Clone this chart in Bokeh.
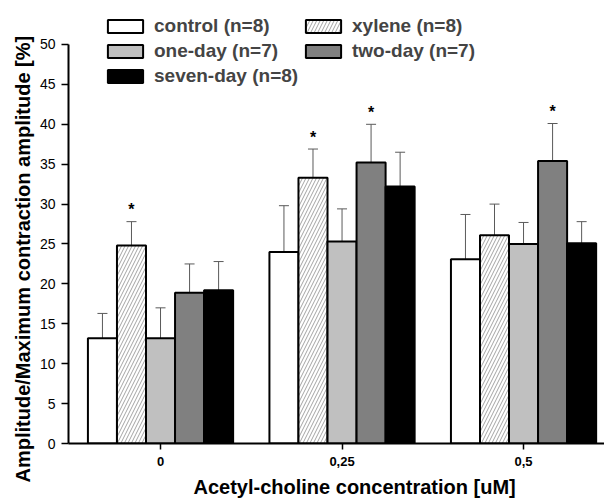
from bokeh.plotting import figure
from bokeh.models import (ColumnDataSource, Range1d, FixedTicker, Whisker, TeeHead,
                          Legend, LegendItem, Title)
from bokeh.transform import dodge
from bokeh.core.properties import value
from bokeh.embed import file_html
from bokeh.resources import INLINE

# ---------------- data ----------------
concentrations = ["0", "0,25", "0,5"]
series_names = ["control (n=8)", "xylene (n=8)", "one-day (n=7)", "two-day (n=7)", "seven-day (n=8)"]
x_title = "Acetyl-choline concentration [uM]"
y_title = "Amplitude/Maximum contraction amplitude [%]"

control = [13.2, 24.0, 23.1]
control_sd = [3.1, 5.8, 5.6]
xylene = [24.8, 33.3, 26.1]
xylene_sd = [3.0, 3.6, 3.9]
one_day = [13.2, 25.3, 25.0]
one_day_sd = [3.8, 4.1, 2.7]
two_day = [18.9, 35.2, 35.4]
two_day_sd = [3.6, 4.8, 4.7]
seven_day = [19.2, 32.2, 25.1]
seven_day_sd = [3.6, 4.3, 2.7]

# significance markers (*)
control_sig = [0, 0, 0]
xylene_sig = [1, 1, 0]
one_day_sig = [0, 0, 0]
two_day_sig = [0, 1, 1]
seven_day_sig = [0, 0, 0]

values = [control, xylene, one_day, two_day, seven_day]
sds = [control_sd, xylene_sd, one_day_sd, two_day_sd, seven_day_sd]
sigs = [control_sig, xylene_sig, one_day_sig, two_day_sig, seven_day_sig]

# ---------------- styles ----------------
offsets = [-0.32, -0.16, 0.0, 0.16, 0.32]
fills = ["white", "white", "#c0c0c0", "#808080", "black"]
hatches = [None, "/", None, None, None]
show_lower = [True, True, True, True, False]
bar_width = 0.16
FONT = "Liberation Sans"

p = figure(width=604, height=503, output_backend="svg", toolbar_location=None,
           x_range=Range1d(-0.507, 2.446), y_range=Range1d(0, 54.887),
           min_border_left=68, min_border_right=0, min_border_top=5, min_border_bottom=60)
p.grid.visible = False
p.outline_line_color = None
p.background_fill_color = "white"
p.border_fill_color = "white"

renderers = []
for name, vals, sd, sig, off, fc, hp, low in zip(series_names, values, sds, sigs,
                                                offsets, fills, hatches, show_lower):
    xs = list(range(len(concentrations)))
    upper = [v + s for v, s in zip(vals, sd)]
    lower = [v - s for v, s in zip(vals, sd)] if low else list(vals)
    src = ColumnDataSource(dict(x=xs, top=vals, upper=upper, lower=lower))
    kw = dict(fill_color=fc, line_color="black", line_width=2)
    if hp:
        kw.update(hatch_pattern=hp, hatch_color="#8c8c8c", hatch_scale=7, hatch_weight=0.8)
    r = p.vbar(x=dodge("x", off), top="top", bottom=0, width=bar_width, source=src, **kw)
    renderers.append(r)

    w = Whisker(base=dodge("x", off), upper="upper", lower="lower", source=src,
                dimension="height", line_color="#5a5a5a", line_width=1,
                upper_head=TeeHead(size=10, line_color="#5a5a5a", line_width=1),
                lower_head=TeeHead(size=10, line_color="#5a5a5a", line_width=1) if low else None)
    p.add_layout(w)

    sx = [x for x, s in zip(xs, sig) if s]
    sy = [u for u, s in zip(upper, sig) if s]
    if sx:
        ssrc = ColumnDataSource(dict(x=sx, y=sy, t=["*"] * len(sx)))
        p.text(x=dodge("x", off), y="y", text="t", source=ssrc, text_align="center",
               text_baseline="middle", y_offset=-12, text_font=value(FONT),
               text_font_style="bold", text_font_size="16px", text_color="black")

# legends: two columns
def make_legend(idx, loc):
    leg = Legend(items=[LegendItem(label=series_names[i], renderers=[renderers[i]]) for i in idx],
                 location=loc, orientation="vertical", glyph_width=44, glyph_height=16,
                 label_height=16, spacing=3, padding=0, margin=0,
                 border_line_color=None, background_fill_alpha=0,
                 label_text_font=FONT, label_text_font_style="bold",
                 label_text_font_size="19px", label_standoff=7, label_text_baseline="middle")
    return leg

p.add_layout(make_legend([0, 2, 4], (35, 356)))
p.add_layout(make_legend([1, 3], (233, 381)))

# axes
p.yaxis.ticker = FixedTicker(ticks=list(range(0, 51, 5)), minor_ticks=[])
p.yaxis.bounds = (0, 50)
p.xaxis.ticker = FixedTicker(ticks=list(range(len(concentrations))), minor_ticks=[])
p.xaxis.major_label_overrides = {i: c for i, c in enumerate(concentrations)}

for ax in (p.xaxis[0], p.yaxis[0]):
    ax.axis_line_width = 2
    ax.axis_line_color = "black"
    ax.major_tick_line_width = 1.5
    ax.major_tick_line_color = "black"
    ax.major_tick_in = 0
    ax.minor_tick_in = 0
    ax.minor_tick_out = 0
    ax.major_label_text_font = FONT
    ax.major_label_text_color = "black"

p.yaxis.major_tick_out = 7
p.yaxis.major_label_text_font_size = "14px"
p.yaxis.major_label_standoff = 6

p.xaxis.major_tick_out = 6
p.xaxis.major_label_text_font_size = "13px"
p.xaxis.major_label_text_font_style = "bold"
p.xaxis.major_label_standoff = 7

# axis titles (placed as side titles so they can be offset like the reference)
yt = Title(text=y_title, align="left", offset=-39, standoff=6,
           text_font=FONT, text_font_style="bold", text_font_size="20px", text_color="black")
p.add_layout(yt, "left")
xt = Title(text=x_title, align="left", offset=125, standoff=10,
           text_font=FONT, text_font_style="bold", text_font_size="20px", text_color="black")
p.add_layout(xt, "below")

open("out.html", "w").write(file_html(p, INLINE))
